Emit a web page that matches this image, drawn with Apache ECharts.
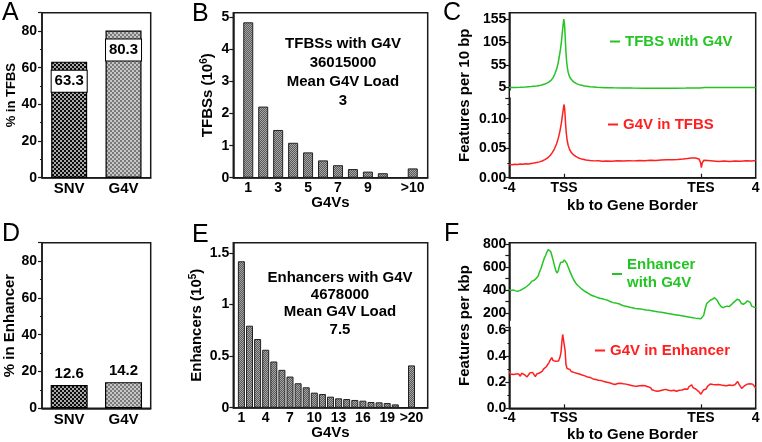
<!DOCTYPE html>
<html><head><meta charset="utf-8">
<script src="https://cdn.jsdelivr.net/npm/echarts@6/dist/echarts.min.js"></script>
<style>html,body{margin:0;padding:0;background:#fff}#c{width:762px;height:442px}</style>
</head><body><div id="c"></div>
<script>
// ---------------- data ----------------
const aCategories = ['SNV', 'G4V'];
const aValues = [63.3, 80.3];
const dCategories = ['SNV', 'G4V'];
const dValues = [12.6, 14.2];

const bPositions = [1, 2, 3, 4, 5, 6, 7, 8, 9, 10, 12];
const bValues = [4.85, 2.22, 1.49, 1.09, 0.79, 0.54, 0.39, 0.27, 0.19, 0.14, 0.29];
const bTickValues = [1, 3, 5, 7, 9, 12];
const bTickLabels = ['1', '3', '5', '7', '9', '>10'];

const ePositions = [1, 2, 3, 4, 5, 6, 7, 8, 9, 10, 11, 12, 13, 14, 15, 16, 17, 18, 19, 20, 22];
const eValues = [1.42, 0.795, 0.666, 0.562, 0.448, 0.367, 0.302, 0.237, 0.198, 0.146, 0.133, 0.107, 0.091, 0.084, 0.075, 0.068, 0.055, 0.052, 0.045, 0.032, 0.41];
const eTickValues = [1, 4, 7, 10, 13, 16, 19, 22];
const eTickLabels = ['1', '4', '7', '10', '13', '16', '19', '>20'];

const geneTickValues = [-4, 0, 10, 14];
const geneTickLabels = ['-4', 'TSS', 'TES', '4'];
const geneInnerTicks = [0, 10];
const cUpperTicks = [5, 55, 105, 155];
const fUpperTicks = [200, 400, 600, 800];
const fUpperMinorTicks = [200, 300, 400, 500, 600, 700, 800];

const cTfbsWithG4V = [[-4,5.3],[-3.6,5.5],[-3.2,5.9],[-2.8,6.4],[-2.4,7.3],[-2.0,8.6],[-1.7,10.2],[-1.4,12.8],[-1.15,16.5],[-0.95,21],[-0.8,27],[-0.66,36],[-0.54,46],[-0.44,58],[-0.35,73],[-0.27,88],[-0.2,104],[-0.13,125],[-0.07,143],[-0.02,156],[0,158],[0.03,146],[0.07,124],[0.11,100],[0.15,78],[0.19,62],[0.24,49],[0.3,39],[0.38,31],[0.48,25],[0.6,20.5],[0.75,16.5],[0.95,13.2],[1.2,10.6],[1.5,8.6],[1.9,7],[2.4,5.8],[3,5],[3.6,4.5],[4.3,4.2],[5,4],[5.8,3.9],[6.6,3.8],[7.4,3.8],[8.2,3.9],[8.9,4],[9.5,4.1],[9.9,4],[10,3.3],[10.1,4.8],[10.3,5.4],[10.8,5.2],[11.5,5.1],[12.2,5.2],[12.9,5.3],[13.5,5.4],[14,5.5]];

const cG4VInTfbs = [[-4,.0225],[-3.8,.0218],[-3.6,.0228],[-3.4,.0222],[-3.2,.0232],[-3.0,.0226],[-2.8,.0236],[-2.6,.0231],[-2.4,.0242],[-2.2,.0248],[-2.0,.0258],[-1.8,.0268],[-1.6,.0283],[-1.4,.0305],[-1.2,.0335],[-1.0,.038],[-0.85,.043],[-0.7,.049],[-0.55,.057],[-0.42,.067],[-0.3,.079],[-0.2,.092],[-0.12,.105],[-0.05,.117],[0,.124],[0.04,.118],[0.08,.104],[0.12,.088],[0.17,.074],[0.23,.063],[0.3,.055],[0.4,.048],[0.52,.043],[0.68,.039],[0.85,.036],[1.05,.0335],[1.3,.0315],[1.6,.030],[1.9,.0292],[2.2,.0285],[2.5,.0288],[2.8,.0280],[3.1,.0284],[3.5,.0279],[3.9,.0286],[4.3,.0282],[4.7,.0289],[5.1,.0285],[5.5,.0292],[5.9,.0288],[6.3,.0295],[6.7,.0291],[7.1,.0298],[7.5,.0302],[7.9,.0306],[8.3,.031],[8.7,.0318],[9.0,.0325],[9.3,.0335],[9.6,.0332],[9.85,.0318],[9.97,.026],[10.03,.017],[10.1,.025],[10.2,.0295],[10.5,.029],[10.9,.0283],[11.3,.0276],[11.7,.0281],[12.1,.0275],[12.5,.0283],[12.9,.028],[13.3,.0288],[13.7,.0284],[14,.029]];

const fEnhancerWithG4V = [[-4,404],[-3.85,398],[-3.7,402],[-3.55,394],[-3.4,390],[-3.25,396],[-3.1,404],[-2.95,415],[-2.8,425],[-2.65,440],[-2.5,455],[-2.35,478],[-2.2,485],[-2.05,500],[-1.9,520],[-1.8,555],[-1.68,590],[-1.55,640],[-1.45,675],[-1.35,700],[-1.25,730],[-1.15,752],[-1.07,755],[-0.98,735],[-0.9,705],[-0.8,660],[-0.7,612],[-0.6,570],[-0.5,548],[-0.42,570],[-0.34,610],[-0.25,640],[-0.15,650],[-0.07,644],[0.02,662],[0.1,655],[0.2,632],[0.3,600],[0.42,565],[0.55,528],[0.7,490],[0.85,462],[1.0,440],[1.15,425],[1.3,408],[1.45,396],[1.6,384],[1.8,370],[2.0,356],[2.2,348],[2.4,338],[2.6,330],[2.8,326],[3.0,318],[3.2,312],[3.4,300],[3.6,292],[3.8,288],[4.0,282],[4.2,272],[4.4,262],[4.6,258],[4.8,252],[5.0,248],[5.2,242],[5.4,240],[5.6,238],[5.8,232],[6.0,228],[6.2,226],[6.4,222],[6.6,218],[6.8,214],[7.0,210],[7.2,207],[7.4,203],[7.6,198],[7.8,194],[8.0,190],[8.2,186],[8.4,182],[8.6,178],[8.8,174],[9.0,170],[9.2,166],[9.4,162],[9.6,158],[9.8,155],[10.0,152],[10.1,160],[10.2,182],[10.3,235],[10.42,285],[10.55,300],[10.7,315],[10.85,322],[11.0,335],[11.1,338],[11.2,310],[11.3,285],[11.45,262],[11.6,248],[11.75,255],[11.9,262],[12.05,258],[12.2,272],[12.35,290],[12.5,305],[12.65,322],[12.8,315],[12.95,285],[13.1,278],[13.25,290],[13.4,308],[13.5,315],[13.6,295],[13.7,262],[13.85,255],[14,250]];

const fG4VInEnhancer = [[-4,.28],[-3.9,.262],[-3.8,.275],[-3.7,.258],[-3.6,.27],[-3.5,.262],[-3.4,.25],[-3.3,.262],[-3.2,.245],[-3.1,.268],[-3.0,.275],[-2.9,.258],[-2.8,.265],[-2.7,.24],[-2.6,.252],[-2.5,.27],[-2.4,.255],[-2.3,.275],[-2.2,.26],[-2.1,.242],[-2.0,.262],[-1.9,.25],[-1.8,.27],[-1.7,.26],[-1.6,.282],[-1.5,.3],[-1.4,.29],[-1.3,.318],[-1.2,.33],[-1.1,.35],[-1.0,.37],[-0.9,.388],[-0.8,.365],[-0.7,.38],[-0.6,.36],[-0.5,.348],[-0.4,.362],[-0.3,.39],[-0.22,.43],[-0.15,.52],[-0.1,.565],[-0.03,.575],[0.03,.56],[0.08,.44],[0.14,.335],[0.22,.305],[0.32,.29],[0.42,.298],[0.52,.282],[0.62,.29],[0.72,.275],[0.82,.282],[0.92,.268],[1.02,.278],[1.12,.262],[1.22,.272],[1.32,.255],[1.42,.262],[1.52,.248],[1.62,.258],[1.72,.24],[1.82,.252],[1.92,.235],[2.02,.245],[2.12,.225],[2.22,.238],[2.32,.22],[2.42,.228],[2.52,.215],[2.62,.226],[2.72,.212],[2.82,.222],[2.92,.205],[3.02,.215],[3.12,.2],[3.22,.208],[3.32,.195],[3.42,.202],[3.52,.188],[3.62,.196],[3.72,.182],[3.82,.178],[3.92,.19],[4.02,.182],[4.12,.192],[4.22,.18],[4.32,.188],[4.42,.178],[4.52,.185],[4.62,.172],[4.72,.18],[4.82,.168],[4.92,.175],[5.02,.162],[5.12,.17],[5.22,.158],[5.32,.168],[5.42,.16],[5.52,.172],[5.62,.165],[5.72,.175],[5.82,.168],[5.92,.172],[6.02,.158],[6.12,.165],[6.22,.15],[6.32,.158],[6.42,.142],[6.52,.148],[6.62,.135],[6.72,.14],[6.82,.13],[6.92,.142],[7.02,.135],[7.12,.148],[7.22,.14],[7.32,.155],[7.42,.145],[7.52,.152],[7.62,.138],[7.72,.148],[7.82,.135],[7.92,.145],[8.02,.138],[8.12,.142],[8.22,.13],[8.32,.145],[8.42,.138],[8.52,.152],[8.62,.14],[8.72,.155],[8.82,.148],[8.92,.16],[9.02,.145],[9.12,.165],[9.22,.15],[9.32,.18],[9.42,.158],[9.52,.17],[9.62,.148],[9.72,.155],[9.82,.13],[9.92,.118],[10.0,.108],[10.08,.122],[10.18,.14],[10.28,.152],[10.38,.148],[10.48,.168],[10.58,.175],[10.68,.186],[10.78,.175],[10.88,.182],[10.98,.172],[11.08,.18],[11.18,.175],[11.28,.182],[11.38,.17],[11.48,.178],[11.58,.168],[11.68,.175],[11.78,.165],[11.88,.172],[11.98,.168],[12.08,.178],[12.18,.17],[12.28,.175],[12.38,.168],[12.48,.18],[12.58,.195],[12.68,.205],[12.78,.185],[12.88,.168],[12.98,.152],[13.08,.162],[13.18,.172],[13.28,.178],[13.38,.185],[13.48,.182],[13.58,.188],[13.68,.18],[13.78,.185],[13.88,.172],[13.96,.16],[14,.152]];

// ---------------- styles ----------------
const FONT = "'Liberation Sans', Arial, sans-serif";
const GREEN = '#25c425';
const RED = '#ff1f1f';
const INK = '#1a1a1a';

function makePattern(kind) {
  const c = document.createElement('canvas');
  c.width = 4; c.height = 4;
  const g = c.getContext('2d');
  if (kind === 'snv') {
    g.fillStyle = '#0d0d0d'; g.fillRect(0, 0, 4, 4);
    g.fillStyle = '#f4f4f4';
    g.beginPath(); g.arc(1, 1, 0.9, 0, Math.PI * 2); g.fill();
    g.beginPath(); g.arc(3, 3, 0.9, 0, Math.PI * 2); g.fill();
  } else if (kind === 'g4v') {
    g.fillStyle = '#c6c6c6'; g.fillRect(0, 0, 4, 4);
    g.fillStyle = '#7a7a7a'; g.fillRect(0, 0, 2, 2); g.fillRect(2, 2, 2, 2);
  } else {
    g.fillStyle = '#5a5a5a'; g.fillRect(0, 0, 4, 4);
    g.fillStyle = '#a6a6a6';
    g.fillRect(0, 0, 1, 1); g.fillRect(2, 0, 1, 1); g.fillRect(1, 1, 1, 1); g.fillRect(3, 1, 1, 1);
    g.fillRect(0, 2, 1, 1); g.fillRect(2, 2, 1, 1); g.fillRect(1, 3, 1, 1); g.fillRect(3, 3, 1, 1);
  }
  return { image: c, repeat: 'repeat' };
}
const snvPat = makePattern('snv');
const g4vPat = makePattern('g4v');
const histPat = makePattern('hist');

const axisText = { fontSize: 14, fontWeight: 'bold', color: '#000', fontFamily: FONT };
const nameText = { fontSize: 15, fontWeight: 'bold', color: '#000', fontFamily: FONT };
const axLine = { show: true, onZero: false, lineStyle: { color: INK, width: 1.5 } };
const tickOut = { show: true, length: 4, lineStyle: { color: INK, width: 1.2 } };
const tickIn = { show: true, inside: true, length: 4, lineStyle: { color: INK, width: 1.2 } };
const minor = { show: true, splitNumber: 2, length: 2, lineStyle: { color: INK, width: 1 } };
const noSplit = { show: false };

function grid(left, top, width, height, show) {
  return { left, top, width, height, show: !!show, borderColor: INK, borderWidth: 1.5,
           backgroundColor: 'transparent', containLabel: false, outerBoundsMode: 'none' };
}
function hiddenX(gi) { return { gridIndex: gi, type: 'value', min: -4, max: 14, show: false, axisLine: { onZero: false } }; }
function geneX(gi, gap) {
  return {
    gridIndex: gi, type: 'value', min: -4, max: 14, axisLine: axLine, splitLine: noSplit,
    axisTick: Object.assign({}, tickIn, { customValues: geneInnerTicks }),
    axisLabel: Object.assign({}, axisText, { margin: 3, customValues: geneTickValues,
      formatter: v => geneTickLabels[geneTickValues.indexOf(v)] }),
    name: 'kb to Gene Border', nameLocation: 'middle', nameGap: gap, nameTextStyle: nameText
  };
}
function frameY(gi, name, gap) {
  return { gridIndex: gi, type: 'value', min: 0, max: 1, axisLine: { show: false, onZero: false }, axisTick: { show: false },
           axisLabel: { show: false }, splitLine: noSplit, name, nameLocation: 'middle', nameGap: gap, nameTextStyle: nameText };
}
function pctY(gi, name, gap, fs) {
  return { gridIndex: gi, type: 'value', min: 0, max: 90, interval: 20, axisLine: axLine, axisTick: tickOut,
           minorTick: minor, splitLine: noSplit, minorSplitLine: noSplit,
           axisLabel: Object.assign({}, axisText, { margin: 5, showMaxLabel: false }),
           name, nameLocation: 'middle', nameGap: gap, nameTextStyle: Object.assign({}, nameText, { fontSize: fs }) };
}
const supStyle = { fontSize: 10, fontWeight: 'bold', fontFamily: FONT, color: '#000', verticalAlign: 'top', padding: [0, 0, 7, 0] };

const option = {
  animation: false,
  backgroundColor: '#fff',
  grid: [
    grid(42, 12.7, 108.7, 165, true),      // 0 A
    grid(233.3, 12.7, 194.4, 165, true),   // 1 B
    grid(509.3, 12.7, 246.4, 165, true),   // 2 C frame
    grid(509.3, 12.7, 246.4, 77.2),        // 3 C upper
    grid(509.3, 98, 246.4, 79.7),          // 4 C lower
    grid(42, 242.7, 108.7, 165.6, true),   // 5 D
    grid(233.3, 242.7, 194.4, 165, true),  // 6 E
    grid(509.3, 242.7, 246.4, 165.6, true),// 7 F frame
    grid(509.3, 242.7, 246.4, 77.5),       // 8 F upper
    grid(509.3, 327.3, 246.4, 81)          // 9 F lower
  ],
  xAxis: [
    { gridIndex: 0, type: 'category', data: aCategories, axisLine: axLine,
      axisTick: Object.assign({}, tickIn, { alignWithLabel: true, length: 3 }),
      axisLabel: Object.assign({}, axisText, { fontSize: 15, margin: 4 }) },
    { gridIndex: 1, type: 'value', min: 0, max: 13, axisLine: axLine, splitLine: noSplit,
      axisTick: Object.assign({}, tickIn, { customValues: bTickValues, length: 3 }),
      axisLabel: Object.assign({}, axisText, { margin: 3, customValues: bTickValues,
        formatter: v => bTickLabels[bTickValues.indexOf(v)] }),
      name: 'G4Vs', nameLocation: 'middle', nameGap: 17, nameTextStyle: nameText },
    hiddenX(2), hiddenX(3), geneX(4, 21),
    { gridIndex: 5, type: 'category', data: dCategories, axisLine: axLine,
      axisTick: Object.assign({}, tickIn, { alignWithLabel: true, length: 3 }),
      axisLabel: Object.assign({}, axisText, { fontSize: 15, margin: 4 }) },
    { gridIndex: 6, type: 'value', min: 0, max: 24, axisLine: axLine, splitLine: noSplit,
      axisTick: Object.assign({}, tickIn, { customValues: eTickValues, length: 3 }),
      axisLabel: Object.assign({}, axisText, { margin: 3, customValues: eTickValues,
        formatter: v => eTickLabels[eTickValues.indexOf(v)] }),
      name: 'G4Vs', nameLocation: 'middle', nameGap: 14, nameTextStyle: nameText },
    hiddenX(7), hiddenX(8), geneX(9, 19)
  ],
  yAxis: [
    pctY(0, '% in TFBS', 24, 13),
    { gridIndex: 1, type: 'value', min: 0, max: 5.15, interval: 1, axisLine: axLine, axisTick: tickOut,
      splitLine: noSplit, axisLabel: Object.assign({}, axisText, { margin: 4, showMaxLabel: false }),
      name: 'TFBSs (10{sup|6})', nameLocation: 'middle', nameGap: 17,
      nameTextStyle: Object.assign({}, nameText, { rich: { sup: supStyle } }) },
    frameY(2, 'Features per 10 bp', 37),
    { gridIndex: 3, type: 'value', min: 0, max: 170, axisLine: axLine, splitLine: noSplit,
      axisTick: Object.assign({}, tickOut, { customValues: cUpperTicks }),
      axisLabel: Object.assign({}, axisText, { margin: 3, customValues: cUpperTicks }) },
    { gridIndex: 4, type: 'value', min: 0, max: 0.135, interval: 0.05, axisLine: axLine, axisTick: tickOut,
      minorTick: minor, splitLine: noSplit, minorSplitLine: noSplit,
      axisLabel: Object.assign({}, axisText, { margin: 3, showMaxLabel: false, formatter: v => v.toFixed(2) }) },
    pctY(5, '% in Enhancer', 24, 15),
    { gridIndex: 6, type: 'value', min: 0, max: 1.6, interval: 0.5, axisLine: axLine, axisTick: tickOut,
      splitLine: noSplit, axisLabel: Object.assign({}, axisText, { margin: 4, showMaxLabel: false }),
      name: 'Enhancers (10{sup|5})', nameLocation: 'middle', nameGap: 28,
      nameTextStyle: Object.assign({}, nameText, { rich: { sup: supStyle } }) },
    frameY(7, 'Features per kbp', 37),
    { gridIndex: 8, type: 'value', min: 140, max: 811, axisLine: axLine, splitLine: noSplit,
      axisTick: Object.assign({}, tickOut, { customValues: fUpperMinorTicks }),
      axisLabel: Object.assign({}, axisText, { margin: 3, customValues: fUpperTicks }) },
    { gridIndex: 9, type: 'value', min: 0, max: 0.62, interval: 0.2, axisLine: axLine, axisTick: tickOut,
      minorTick: minor, splitLine: noSplit, minorSplitLine: noSplit,
      axisLabel: Object.assign({}, axisText, { margin: 3, showMaxLabel: false, formatter: v => v.toFixed(1) }) }
  ],
  legend: [
    { left: 610, top: 34, padding: 0, icon: 'rect', itemWidth: 10, itemHeight: 2, selectedMode: false,
      data: ['TFBS with G4V'], textStyle: { color: GREEN, fontSize: 15, fontWeight: 'bold', fontFamily: FONT } },
    { left: 608, top: 117, padding: 0, icon: 'rect', itemWidth: 10, itemHeight: 2, selectedMode: false,
      data: ['G4V in TFBS'], textStyle: { color: RED, fontSize: 15, fontWeight: 'bold', fontFamily: FONT } },
    { left: 612, top: 256, padding: 0, icon: 'rect', itemWidth: 10, itemHeight: 2, selectedMode: false,
      data: ['Enhancer\nwith G4V'], textStyle: { color: GREEN, fontSize: 15, fontWeight: 'bold', fontFamily: FONT, lineHeight: 18 } },
    { left: 595, top: 343, padding: 0, icon: 'rect', itemWidth: 10, itemHeight: 2, selectedMode: false,
      data: ['G4V in Enhancer'], textStyle: { color: RED, fontSize: 15, fontWeight: 'bold', fontFamily: FONT } }
  ],
  series: [
    { type: 'bar', name: 'A', xAxisIndex: 0, yAxisIndex: 0, barWidth: 36,
      data: aValues.map((v, i) => ({ value: v, itemStyle: { color: i === 0 ? snvPat : g4vPat } })),
      itemStyle: { borderColor: '#000', borderWidth: 1.2 },
      label: { show: true, position: 'insideTop', distance: 9, formatter: p => p.value.toFixed(1),
        backgroundColor: '#fff', borderColor: '#000', borderWidth: 1, width: 35, height: 19, lineHeight: 19,
        padding: [1, 0], align: 'center', fontSize: 15, fontWeight: 'bold', color: '#000', fontFamily: FONT } },
    { type: 'bar', name: 'B', xAxisIndex: 1, yAxisIndex: 1, barWidth: 10,
      data: bPositions.map((x, i) => [x, bValues[i]]),
      itemStyle: { color: histPat, borderColor: '#222', borderWidth: 1 } },
    { type: 'line', name: 'TFBS with G4V', xAxisIndex: 3, yAxisIndex: 3, data: cTfbsWithG4V,
      showSymbol: false, symbol: 'none', color: GREEN, lineStyle: { color: GREEN, width: 1.5 } },
    { type: 'line', name: 'G4V in TFBS', xAxisIndex: 4, yAxisIndex: 4, data: cG4VInTfbs,
      showSymbol: false, symbol: 'none', color: RED, lineStyle: { color: RED, width: 1.5 } },
    { type: 'bar', name: 'D', xAxisIndex: 5, yAxisIndex: 5, barWidth: 37,
      data: dValues.map((v, i) => ({ value: v, itemStyle: { color: i === 0 ? snvPat : g4vPat } })),
      itemStyle: { borderColor: '#000', borderWidth: 1.2 },
      label: { show: true, position: 'top', distance: 4, formatter: p => p.value.toFixed(1),
        fontSize: 15, fontWeight: 'bold', color: '#000', fontFamily: FONT } },
    { type: 'bar', name: 'E', xAxisIndex: 6, yAxisIndex: 6, barWidth: 7,
      data: ePositions.map((x, i) => [x, eValues[i]]),
      itemStyle: { color: histPat, borderColor: '#222', borderWidth: 1 } },
    { type: 'line', name: 'Enhancer\nwith G4V', xAxisIndex: 8, yAxisIndex: 8, data: fEnhancerWithG4V,
      showSymbol: false, symbol: 'none', color: GREEN, lineStyle: { color: GREEN, width: 1.5 } },
    { type: 'line', name: 'G4V in Enhancer', xAxisIndex: 9, yAxisIndex: 9, data: fG4VInEnhancer,
      showSymbol: false, symbol: 'none', color: RED, lineStyle: { color: RED, width: 1.5 } }
  ],
  graphic: [
    ...[['A', 2, 13.5], ['B', 192, 14.5], ['C', 443, 13.5], ['D', 2, 234.5], ['E', 192, 235], ['F', 444, 234]].map(t => ({
      type: 'text', x: t[1], y: t[2], silent: true,
      style: { text: t[0], font: '25px ' + FONT, fill: '#000', textAlign: 'left', align: 'left',
               textVerticalAlign: 'middle', verticalAlign: 'middle' } })),
    { type: 'text', x: 343, y: 35, silent: true,
      style: { text: 'TFBSs with G4V\n36015000\nMean G4V Load\n3', font: 'bold 15px ' + FONT, fill: '#000',
               lineHeight: 18.7, textLineHeight: 18.7, textAlign: 'center', align: 'center', textVerticalAlign: 'top', verticalAlign: 'top' } },
    { type: 'text', x: 340, y: 269, silent: true,
      style: { text: 'Enhancers with G4V\n4678000\nMean G4V Load\n7.5', font: 'bold 15px ' + FONT, fill: '#000',
               lineHeight: 17.3, textLineHeight: 17.3, textAlign: 'center', align: 'center', textVerticalAlign: 'top', verticalAlign: 'top' } }
  ]
};

const chart = echarts.init(document.getElementById('c'), null, { renderer: 'canvas' });
chart.setOption(option);
</script>
</body></html>
